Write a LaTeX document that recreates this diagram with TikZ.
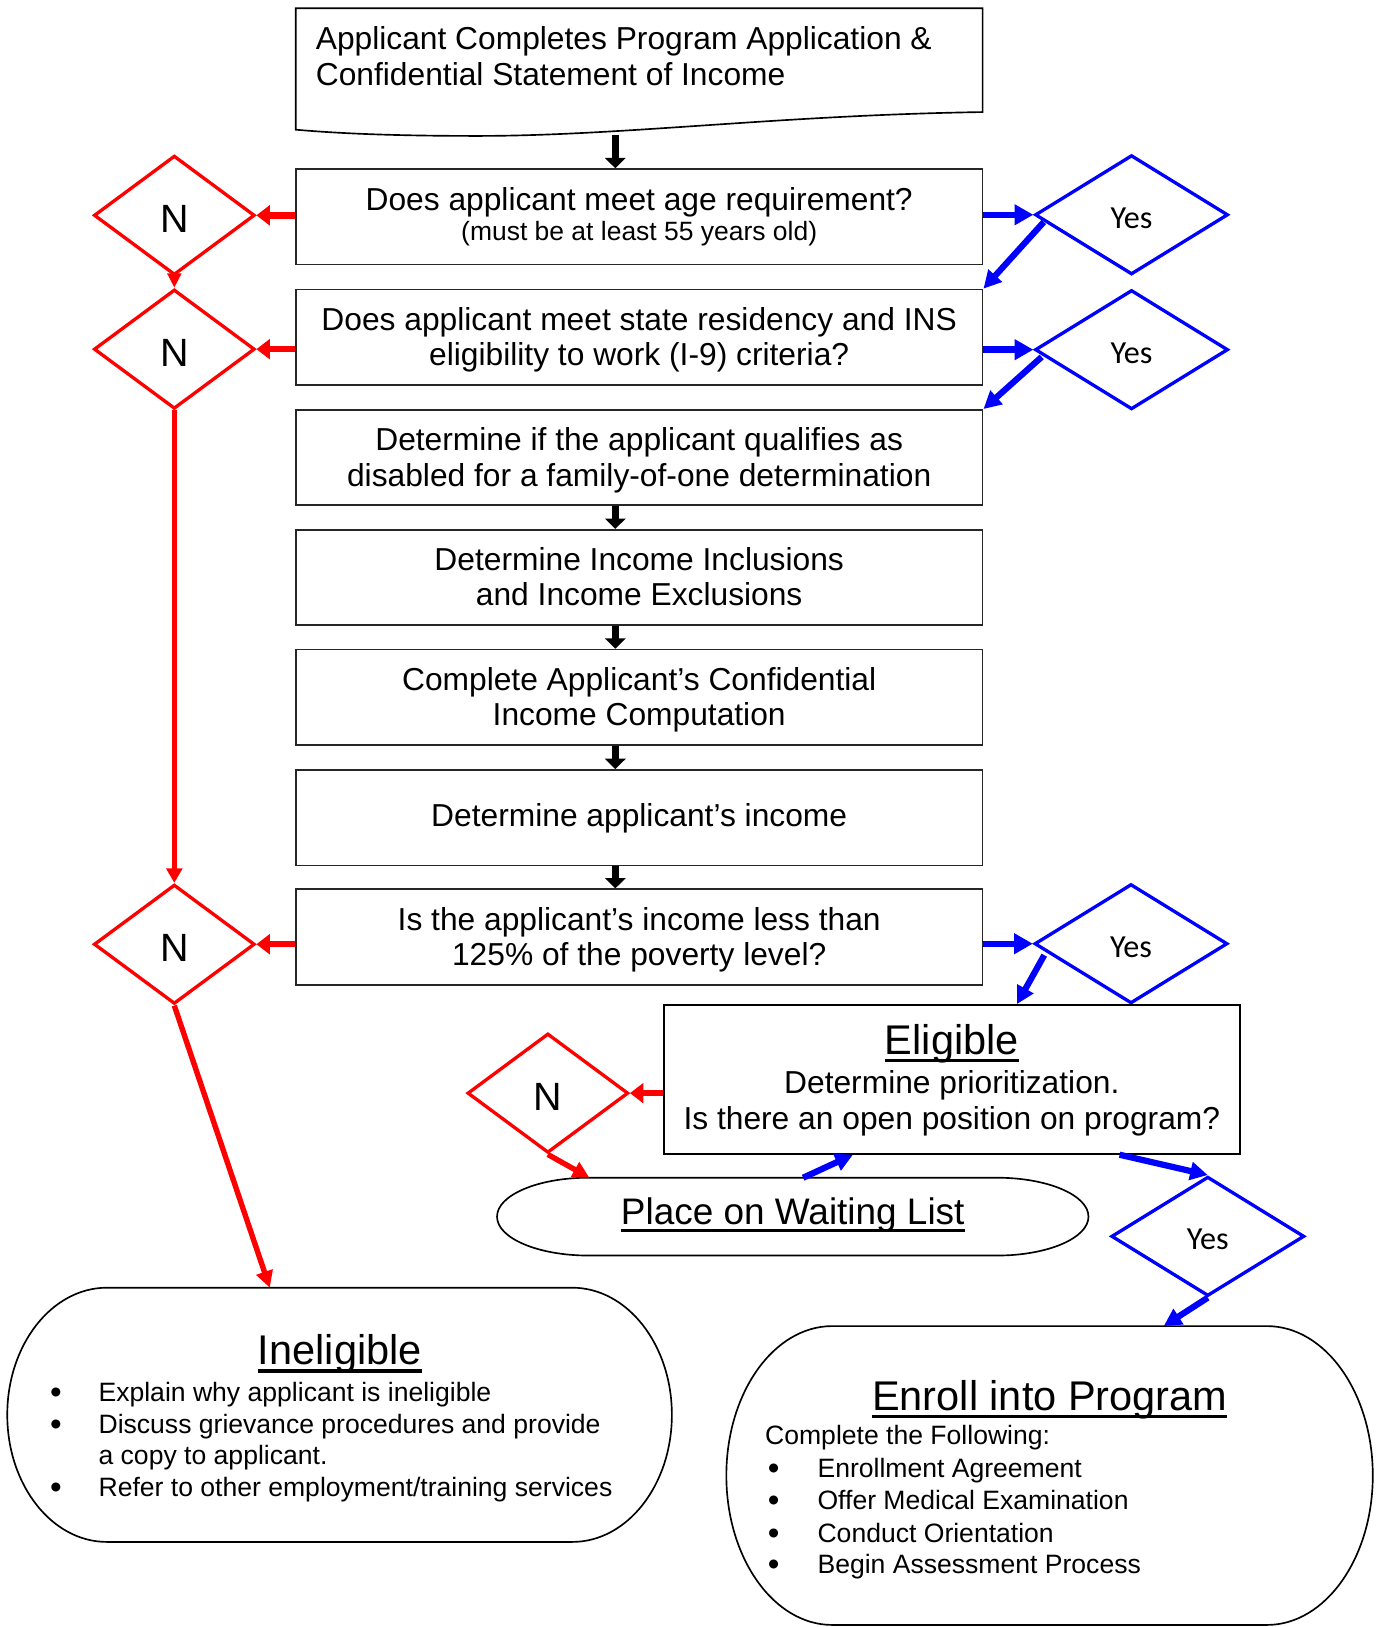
\documentclass[tikz,border=0pt]{standalone}
\usepackage{fontspec}
\setmainfont{Liberation Sans}
\newfontfamily\yesfont{Carlito}
\usetikzlibrary{shapes.geometric,arrows.meta,calc}

% type sizes
\newcommand\fMain{\fontsize{15.3pt}{17.3pt}\selectfont}
\newcommand\fSmall{\fontsize{12.75pt}{14pt}\selectfont}
\newcommand\fTitle{\fontsize{20pt}{23pt}\selectfont}
\newcommand\fWait{\fontsize{17.8pt}{21pt}\selectfont}
\newcommand\fList{\fontsize{12.8pt}{15.25pt}\selectfont}
\newcommand\fBul{\fontsize{16pt}{18pt}\selectfont}
\newcommand\fN{\fontsize{19pt}{21pt}\selectfont}
\newcommand\fYes{\yesfont\fontsize{15.5pt}{18pt}\selectfont}
% heavy underline for headings
\newcommand\headul[1]{\sbox0{#1}\rlap{\rule[-3.7pt]{\wd0}{1.5pt}}\usebox0}

\begin{document}
\begin{tikzpicture}[x=0.5pt,y=-0.5pt,
  box/.style={draw=black!85,line width=0.8pt,minimum width=331pt,minimum height=46pt,inner sep=0pt},
  txt/.style={inner sep=0pt,anchor=base,font=\fMain},
  lst/.style={inner sep=0pt,anchor=base west,font=\fList},
  bul/.style={inner sep=0pt,anchor=base,font=\fBul,yshift=-1pt},
  hidden/.style={inner sep=0pt,outer sep=0pt},
  outl/.style={draw=black,line width=0.8pt},
  ndiam/.style={diamond,draw=red,line width=1.6pt,minimum width=77.5pt,minimum height=57.5pt,inner sep=0pt,font=\fN,text height=17pt,text depth=0pt},
  ydiam/.style={diamond,draw=blue,line width=1.6pt,minimum width=93pt,minimum height=57.5pt,inner sep=0pt,font=\fYes,text height=13pt,text depth=0pt},
  blk/.style={draw=black,line width=3.1pt,-{Triangle[length=5pt,width=9.8pt]}},
  redA/.style={draw=red,line width=3.1pt,-{Triangle[length=6.5pt,width=9.5pt]}},
  redS/.style={draw=red,line width=2pt,-{Triangle[length=7pt,width=6.5pt]}},
  redT/.style={draw=red,line width=2.5pt,-{Triangle[length=7pt,width=7.5pt]}},
  redD/.style={draw=red,line width=2.6pt,-{Triangle[length=8pt,width=8pt]}},
  bluA/.style={draw=blue,line width=3.1pt,-{Triangle[length=9pt,width=9.5pt]}},
  bluD/.style={draw=blue,line width=3pt,-{Triangle[length=8.5pt,width=8.5pt]}},
]
\useasboundingbox (0,0) rectangle (1327,1568);

% --- opening document shape ---
\draw[outl] (285,8) -- (947,8) -- (947,108)
  .. controls (750,111) and (600,131) .. (460,131)
  .. controls (370,131) and (320,128) .. (285,125) -- cycle;
\node[txt,anchor=base west] (d1) at (304,47.5) {Applicant Completes Program Application \&};
\node[txt,anchor=base west] (d2) at (304,82) {Confidential Statement of Income};
\coordinate (docbot) at (593,130);

% --- process boxes ---
\node[box] (q1) at (616,209) {};
\node[box] (q2) at (616,325) {};
\node[box] (q3) at (616,441) {};
\node[box] (q4) at (616,556.5) {};
\node[box] (q5) at (616,672) {};
\node[box] (q6) at (616,788) {};
\node[box] (q7) at (616,903) {};

\node[txt] (q1a) at (616,202.4) {Does applicant meet age requirement?};
\node[txt,font=\fSmall] (q1b) at (616,232) {(must be at least 55 years old)};
\node[txt] (q2a) at (616,318.4) {Does applicant meet state residency and INS};
\node[txt] (q2b) at (616,352.4) {eligibility to work (I-9) criteria?};
\node[txt] (q3a) at (616,434.5) {Determine if the applicant qualifies as};
\node[txt] (q3b) at (616,468.5) {disabled for a family-of-one determination};
\node[txt] (q4a) at (616,550) {Determine Income Inclusions};
\node[txt] (q4b) at (616,584) {and Income Exclusions};
\node[txt] (q5a) at (616,665.4) {Complete Applicant’s Confidential};
\node[txt] (q5b) at (616,699.4) {Income Computation};
\node[txt] (q6a) at (616,796.4) {Determine applicant’s income};
\node[txt] (q7a) at (616,896.4) {Is the applicant’s income less than};
\node[txt] (q7b) at (616,930.4) {125\% of the poverty level?};

% --- decision diamonds ---
\node[ndiam] (n1) at (168,207.5) {N};
\node[ndiam] (n2) at (168,336.5) {N};
\node[ndiam] (n3) at (168,910) {N};
\node[ndiam] (n4) at (528,1053.5) {N};
\node[ydiam] (yes1) at (1090.5,207) {Yes};
\node[ydiam] (yes2) at (1090.5,337) {Yes};
\node[ydiam] (yes3) at (1090,909.5) {Yes};
\node[ydiam] (yes4) at (1164,1191.5) {Yes};

% --- eligible box ---
\node[draw=black,line width=0.8pt,minimum width=277.5pt,minimum height=71.75pt,inner sep=0pt] (elig) at (917.3,1040.3) {};
\node[txt,font=\fTitle] (eligT) at (917.3,1016) {\headul{Eligible}};
\node[txt] (eligA) at (917.3,1053.6) {Determine prioritization.};
\node[txt] (eligB) at (917.3,1089) {Is there an open position on program?};

% --- waiting list terminator ---
\node[hidden,minimum width=285pt,minimum height=37.5pt] (wait) at (764,1172.5) {};
\draw[outl] ($(wait.north west)+(88,0)$) -- ($(wait.north east)+(-88,0)$)
  arc[start angle=-90,end angle=90,x radius=88,y radius=37.5]
  -- ($(wait.south west)+(88,0)$)
  arc[start angle=90,end angle=270,x radius=88,y radius=37.5] -- cycle;
\node[txt,font=\fWait] (waitT) at (764,1179.8) {\headul{Place on Waiting List}};

% --- ineligible terminator ---
\node[hidden,minimum width=320.25pt,minimum height=122.5pt] (inel) at (327.25,1363.5) {};
\draw[outl] ($(inel.north west)+(96,0)$) -- ($(inel.north east)+(-96,0)$)
  arc[start angle=-90,end angle=90,x radius=96,y radius=122.5]
  -- ($(inel.south west)+(96,0)$)
  arc[start angle=90,end angle=270,x radius=96,y radius=122.5] -- cycle;
\node[txt,font=\fTitle] (inelT) at (327.5,1315.4) {\headul{Ineligible}};
\node[bul] (ib1) at (53.8,1350.8) {•};
\node[bul] (ib2) at (53.8,1381.2) {•};
\node[bul] (ib3) at (53.8,1442.3) {•};
\node[lst] (il1) at (94.6,1350.8) {Explain why applicant is ineligible};
\node[lst] (il2) at (94.6,1381.2) {Discuss grievance procedures and provide};
\node[lst] (il3) at (94.6,1411.1) {a copy to applicant.};
\node[lst] (il4) at (94.6,1442.3) {Refer to other employment/training services};

% --- enrollment terminator ---
\node[hidden,minimum width=311.5pt,minimum height=144pt] (enroll) at (1011.5,1422) {};
\draw[outl] ($(enroll.north west)+(102,0)$) -- ($(enroll.north east)+(-102,0)$)
  arc[start angle=-90,end angle=90,x radius=102,y radius=144]
  -- ($(enroll.south west)+(102,0)$)
  arc[start angle=90,end angle=270,x radius=102,y radius=144] -- cycle;
\node[txt,font=\fTitle] (enrT) at (1011.7,1359.4) {\headul{Enroll into Program}};
\node[lst] (enrC) at (737,1392.5) {Complete the Following:};
\node[bul] (eb1) at (745.5,1423.7) {•};
\node[bul] (eb2) at (745.5,1454.5) {•};
\node[bul] (eb3) at (745.5,1486.3) {•};
\node[bul] (eb4) at (745.5,1516.8) {•};
\node[lst] (el1) at (787.5,1423.7) {Enrollment Agreement};
\node[lst] (el2) at (787.5,1454.5) {Offer Medical Examination};
\node[lst] (el3) at (787.5,1486.3) {Conduct Orientation};
\node[lst] (el4) at (787.5,1516.8) {Begin Assessment Process};

% --- main sequence ---
\draw[blk] (docbot) -- (docbot |- q1.north);
\draw[blk] (q3.south -| docbot) -- (q4.north -| docbot);
\draw[blk] (q4.south -| docbot) -- (q5.north -| docbot);
\draw[blk] (q5.south -| docbot) -- (q6.north -| docbot);
\draw[blk] (q6.south -| docbot) -- (q7.north -| docbot);

% --- "no" branches ---
\draw[redA] (n1.east -| q1.west) -- (n1.east);
\draw[redA] (n2.east -| q2.west) -- (n2.east);
\draw[redA] (n3.east -| q7.west) -- (n3.east);
\draw[redS] (n1.south) -- (n2.north);
\draw[redT] (n2.south) -- (n3.north);
\coordinate (inelTop) at ($(inel.north west)+(253,0)$);
\draw[redD] (n3.south) -- (inelTop);
\draw[redA] (n4.east -| elig.west) -- (n4.east);
\draw[redD] (n4.south) -- ($(wait.north west)+(89,0)$);

% --- "yes" branches ---
\draw[bluA] (yes1.west -| q1.east) -- (yes1.west);
\draw[bluA] (yes2.west -| q2.east) -- (yes2.west);
\draw[bluA] (yes3.west -| q7.east) -- (yes3.west);
\draw[bluD] ($(yes1.west)+(10,7)$) -- (q2.north east);
\draw[bluD] ($(yes2.west)+(8,7)$) -- (q3.north east);
\draw[bluD] ($(yes3.west)+(11,11)$) -- ($(elig.north west)+(341,0)$);
\draw[bluD] ($(wait.north)+(10,0)$) -- ($(elig.south west)+(183,0)$);
\draw[bluD] ($(elig.south west)+(440,0)$) -- (yes4.north);
\draw[bluD] (yes4.south) -- ($(enroll.north)+(110,0)$);
\end{tikzpicture}
\end{document}
